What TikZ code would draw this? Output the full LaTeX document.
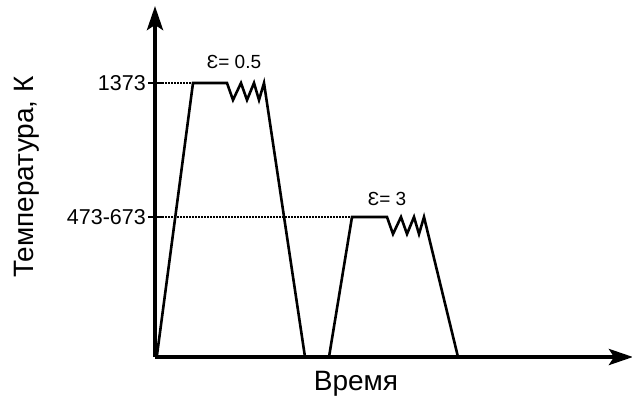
\documentclass[tikz,border=0pt]{standalone}
\usepackage{fontspec}
\setmainfont{Liberation Sans}
\usetikzlibrary{arrows.meta}
\begin{document}
\begin{tikzpicture}[x=1pt,y=-1pt,
  axis/.style={line width=4pt,-{Stealth[length=24pt,width=16pt,inset=5pt]}},
  curve/.style={line width=2.6pt,line join=miter},
  dotline/.style={line width=2pt,dash pattern=on 1.5pt off 1.5pt},
  tick/.style={line width=1.6pt},
  ticklbl/.style={font=\fontsize{21.5}{24}\selectfont,anchor=east,inner sep=0pt},
  axlbl/.style={font=\fontsize{28}{30}\selectfont,inner sep=0pt},
  epslbl/.style={font=\fontsize{19}{22}\selectfont,inner sep=0pt}]
\useasboundingbox (0,0) rectangle (632,407);
\coordinate (O) at (155,357);
\coordinate (Ytop) at (155,6);
\coordinate (Xend) at (633,357);
% first cycle
\coordinate (a0) at (157,355);
\coordinate (a1) at (193,83);
\coordinate (a2) at (227,83);
\coordinate (a3) at (305,357);
% second cycle
\coordinate (b0) at (329,357);
\coordinate (b1) at (352,217);
\coordinate (b2) at (387,217);
\coordinate (b3) at (458,357);
% ticks
\coordinate (t1l) at (148,83);
\coordinate (t1r) at (162,83);
\coordinate (t2l) at (148,217);
\coordinate (t2r) at (162,217);
\draw[dotline] (t1r) -- (a1);
\draw[dotline] (t2r) -- (b1);
\draw[tick] (t1l) -- (t1r);
\draw[tick] (t2l) -- (t2r);
\draw[curve] (a0) -- (a1) -- (a2) -- ++(6,17) -- ++(8,-17) -- ++(6,17) -- ++(7,-17) -- ++(5,17) -- ++(5,-17) -- (a3);
\draw[curve] (b0) -- (b1) -- (b2) -- ++(6,17) -- ++(8,-17) -- ++(6,17) -- ++(7,-17) -- ++(5,17) -- ++(5,-17) -- (b3);
\draw[axis] (O) -- (Ytop);
\draw[axis] (O) -- (Xend);
\node[ticklbl] (l1) at (146,83) {1373};
\node[ticklbl] (l2) at (146,217) {473-673};
\node[epslbl] (e1) at (234,62) {Ɛ= 0.5};
\node[epslbl] (e2) at (387,199) {Ɛ= 3};
\node[axlbl] (xl) at (356,384) {Время};
\node[axlbl,rotate=90] (yl) at (27,177) {Температура, К};
\end{tikzpicture}
\end{document}
